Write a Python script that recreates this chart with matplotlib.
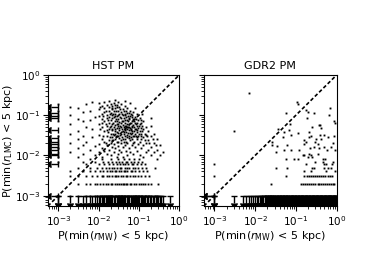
import numpy as np
import matplotlib.pyplot as plt

N = 1000.0  # orbits per satellite, values below are counts out of N

# HST PM: (count with min r_MW < 5 kpc, count with min r_LMC < 5 kpc)
hst_cloud = [
    (2, 160), (2, 100), (2, 60), (2, 35), (2, 20), (2, 12), (3, 150), (3, 80), (3, 40), (3, 25),
    (3, 15), (3, 9), (4, 120), (4, 70), (4, 30), (4, 18), (4, 11), (5, 190), (5, 50), (5, 22),
    (6, 130), (6, 75), (6, 14), (7, 210), (7, 45), (7, 28), (8, 90), (8, 17), (8, 10),
    (10, 200), (10, 140), (10, 95), (10, 60), (10, 33), (10, 19), (10, 12),
    (12, 170), (12, 110), (12, 80), (12, 50), (12, 26), (12, 15), (12, 9),
    (14, 210), (14, 150), (14, 120), (14, 70), (14, 40), (14, 22), (14, 13),
    (16, 180), (16, 100), (16, 85), (16, 55), (16, 30), (16, 18), (16, 11),
    (18, 220), (18, 160), (18, 130), (18, 90), (18, 65), (18, 45), (18, 24), (18, 14),
    (20, 190), (20, 115), (20, 75), (20, 35), (20, 20), (20, 10),
    (22, 170), (22, 140), (22, 100), (22, 60), (22, 42), (22, 28), (22, 16),
    (24, 200), (24, 125), (24, 88), (24, 52), (24, 32), (24, 19), (24, 12),
    (26, 150), (26, 110), (26, 70), (26, 45), (26, 25), (26, 15),
    (28, 180), (28, 95), (28, 62), (28, 38), (28, 22), (28, 9),
    (30, 210), (30, 130), (30, 80), (30, 55), (30, 30), (30, 17), (30, 11),
    (33, 160), (33, 105), (33, 68), (33, 42), (33, 27), (33, 14),
    (36, 190), (36, 120), (36, 85), (36, 50), (36, 35), (36, 20), (36, 12),
    (40, 145), (40, 100), (40, 72), (40, 58), (40, 40), (40, 25), (40, 16), (40, 9),
    (44, 170), (44, 110), (44, 65), (44, 45), (44, 30), (44, 18),
    (48, 130), (48, 90), (48, 55), (48, 38), (48, 22), (48, 13),
    (52, 150), (52, 75), (52, 50), (52, 33), (52, 20), (52, 10),
    (56, 115), (56, 85), (56, 60), (56, 42), (56, 27), (56, 15),
    (60, 130), (60, 95), (60, 48), (60, 36), (60, 24), (60, 12),
    (66, 100), (66, 70), (66, 52), (66, 40), (66, 18),
    (72, 120), (72, 80), (72, 58), (72, 30), (72, 20), (72, 11),
    (80, 90), (80, 65), (80, 45), (80, 34), (80, 16),
    (88, 105), (88, 55), (88, 38), (88, 25), (88, 13),
    (96, 75), (96, 48), (96, 30), (96, 19),
    (105, 85), (105, 60), (105, 40), (105, 22), (105, 10),
    (115, 65), (115, 35), (115, 26), (115, 15),
    (130, 70), (130, 45), (130, 28), (130, 18), (130, 9),
    (150, 50), (150, 33), (150, 20), (150, 12),
    (170, 40), (170, 24), (170, 14), (200, 55), (200, 30), (200, 16), (200, 10),
    (240, 35), (240, 20), (240, 12), (280, 25), (280, 14), (280, 8), (330, 18), (330, 10), (390, 12),
    (60, 200), (45, 220), (80, 150), (120, 110), (200, 85), (25, 240),
    (1, 190), (1, 130), (1, 70), (1, 30), (1, 15), (1, 9), (1, 7), (1, 1),
    # denser core of the cloud
    (11, 160), (11, 45), (13, 95), (13, 30), (15, 130), (15, 62), (15, 20), (17, 75), (17, 38),
    (19, 110), (19, 52), (19, 28), (21, 150), (21, 85), (21, 46), (21, 24), (23, 65), (23, 35),
    (23, 110), (25, 175), (25, 95), (25, 58), (25, 40), (27, 130), (27, 82), (27, 30),
    (29, 160), (29, 70), (29, 48), (31, 100), (31, 62), (31, 36), (31, 21), (34, 140), (34, 90),
    (34, 55), (34, 32), (38, 110), (38, 70), (38, 45), (38, 28), (42, 130), (42, 85), (42, 50),
    (42, 34), (42, 21), (46, 100), (46, 75), (46, 42), (46, 26), (50, 115), (50, 62), (50, 45),
    (50, 28), (54, 95), (54, 70), (54, 36), (58, 80), (58, 52), (58, 30), (63, 110), (63, 65),
    (63, 45), (63, 28), (69, 90), (69, 55), (69, 36), (69, 25), (76, 70), (76, 50), (76, 40),
    (76, 22), (84, 80), (84, 60), (84, 30), (92, 65), (92, 42), (92, 28), (100, 55), (100, 35),
    (110, 75), (110, 48), (110, 30), (120, 55), (120, 40), (140, 35), (140, 24), (160, 30),
    (180, 20), (220, 26), (260, 18), (20, 55), (35, 65), (45, 55), (55, 50), (65, 35),
    (12, 65), (16, 42), (26, 35), (32, 48), (37, 24), (43, 38), (62, 42), (75, 30), (85, 45),
]
# low-count rows of the HST sample: y count -> x counts
hst_rows = {
    1: [2, 3, 5, 6, 8, 9, 11, 12, 14, 15, 17, 19, 20, 22, 25, 27, 30, 32, 36, 38, 42, 45, 50,
        53, 58, 65, 70, 80, 85, 95, 100, 115, 122, 140, 150, 170, 180, 205, 250, 290],
    2: [3, 5, 6, 8, 9, 11, 13, 15, 17, 20, 22, 26, 28, 33, 35, 40, 43, 49, 52, 60, 65, 77, 85,
        100, 110, 130, 140, 170, 200, 300],
    3: [2, 3, 5, 7, 9, 12, 13, 16, 18, 21, 25, 27, 31, 37, 40, 48, 52, 60, 72, 80, 95, 110,
        140, 180],
    4: [2, 4, 6, 8, 11, 13, 16, 19, 21, 25, 27, 32, 35, 42, 45, 52, 62, 68, 82, 100, 130, 160],
    5: [3, 6, 9, 12, 15, 18, 22, 24, 29, 34, 37, 44, 52, 58, 70, 78, 95, 120, 150, 250],
    6: [5, 10, 14, 18, 23, 28, 34, 41, 45, 55, 66, 72, 88, 110, 140],
    7: [4, 8, 13, 17, 21, 27, 33, 39, 47, 52, 64, 77, 95, 120],
    8: [6, 12, 20, 30, 42, 56, 75, 100],
}
# zero counts in x (left arrows) and in y (down arrows)
hst_left_y = [163, 111, 97, 84, 43, 27, 22, 19, 16, 14, 11, 10, 6, 0]
hst_down_x = [0, 1, 2, 3, 4, 5, 6, 7, 8, 9, 10, 11, 12, 13, 14, 15, 16, 17, 18, 19, 20, 22, 24,
              26, 28, 30, 32, 34, 36, 38, 40, 43, 46, 50, 54, 58, 62, 66, 70, 75, 80, 85, 90, 96,
              102, 110, 118, 126, 135, 145, 155, 170, 185, 200, 220, 240, 260, 280, 300, 330,
              360, 400, 600]

# GDR2 PM
gdr2_cloud = [
    (7, 350), (3, 40), (1, 6), (1, 3), (105, 210), (113, 185), (56, 115), (194, 118), (189, 84),
    (275, 111), (700, 148), (667, 101), (900, 63), (840, 73), (176, 134), (72, 59), (68, 43),
    (51, 39), (110, 37), (49, 29), (36, 45), (256, 52), (400, 57), (410, 49), (235, 31),
    (400, 33), (500, 33), (860, 30), (410, 26), (376, 56), (213, 28), (160, 24), (176, 21),
    (292, 22), (343, 19), (272, 16), (120, 14), (75, 14), (33, 12), (56, 8), (90, 8), (150, 10),
    (194, 9), (235, 10), (455, 7), (485, 5), (600, 5), (176, 6), (282, 5), (810, 7), (300, 7),
    (160, 4), (35, 17), (26, 18), (75, 32), (213, 39), (310, 26), (630, 29), (580, 14),
    (530, 8), (710, 5), (810, 20), (26, 22), (62, 18), (160, 19), (51, 14), (220, 15),
    (375, 15), (500, 16), (740, 16), (160, 10), (213, 11), (256, 9), (345, 11), (110, 8),
    (460, 8), (500, 6), (540, 6), (760, 6), (32, 5), (62, 5), (256, 5), (550, 4), (235, 4),
    (900, 14), (900, 4),
]
gdr2_rows = {
    1: [15, 17, 19, 21, 23, 25, 28, 31, 34, 37, 40, 44, 48, 52, 57, 62, 68, 74, 80, 87, 94, 102,
        110, 120, 130, 140, 152, 165, 178, 192, 208, 225, 243, 262, 283, 305, 330, 355, 383,
        413, 445, 480, 518, 558, 600, 645, 695, 748, 805, 866, 930, 990],
    2: [24, 130, 150, 170, 190, 215, 240, 270, 300, 340, 380, 420, 470, 520, 580, 650, 720, 800,
        880],
    3: [56, 160, 190, 215, 240, 270, 300, 330, 380, 420, 470, 530, 600, 680, 750],
}
gdr2_left_y = [0, 1]
gdr2_down_x = [0, 1, 3, 5, 6, 7, 8, 9, 10, 11, 12, 13, 14, 15, 16, 17, 18, 19, 20, 21, 22, 23,
               24, 25, 26, 27, 28, 29, 30, 32, 34, 36, 38, 40, 42, 44, 46, 48, 50, 53, 56, 59,
               62, 65, 68, 72, 76, 80, 84, 88, 92, 97, 102, 107, 112, 118, 124, 130, 137, 144,
               151, 159, 167, 175, 184, 193, 203, 213, 224, 235, 247, 259, 272, 286, 300, 315,
               331, 348, 365, 383, 402, 422, 443, 465, 488, 512, 538, 565, 593, 622, 653, 685,
               719, 755, 792, 831, 872, 915, 960, 1000]

lo = 10**-3.26


def draw_panel(ax, cloud, rows, left_y, down_x, title):
    pts = list(cloud)
    for ny, xs in rows.items():
        pts += [(nx, ny) for nx in xs]
    px = np.array([p[0] for p in pts]) / N
    py = np.array([p[1] for p in pts]) / N
    ax.plot(px, py, 'ks', ms=1.35, mew=0)

    # zero counts -> upper limits at 1/N
    dx = np.maximum(np.array(down_x), 1) / N
    ax.errorbar(dx, np.full(len(dx), 1e-3), yerr=3.6e-4, uplims=True, fmt='none',
                color='k', ecolor='k', elinewidth=1, capsize=2.5)
    ly = np.maximum(np.array(left_y), 1) / N
    ax.errorbar(np.full(len(ly), 1e-3), ly, xerr=3.6e-4, xuplims=True, fmt='none',
                color='k', ecolor='k', elinewidth=1, capsize=2.5)

    ax.plot([lo, 1], [lo, 1], 'k', lw=1.2, dashes=(2.2, 1.4))
    ax.set_xscale('log')
    ax.set_yscale('log')
    ax.set_xlim(lo, 1)
    ax.set_ylim(lo, 1)
    ax.set_title(title, fontsize=8, pad=4)
    ax.set_xlabel(r'P(min($r_{\rm MW}$) < 5 kpc)', fontsize=8, labelpad=1)
    ax.tick_params(labelsize=7.5, pad=2)


fig = plt.figure(figsize=(3.74, 2.8), dpi=100)
ax1 = fig.add_axes([0.128, 0.264, 0.351, 0.468])
ax2 = fig.add_axes([0.545, 0.264, 0.355, 0.468])

draw_panel(ax1, hst_cloud, hst_rows, hst_left_y, hst_down_x, 'HST PM')
draw_panel(ax2, gdr2_cloud, gdr2_rows, gdr2_left_y, gdr2_down_x, 'GDR2 PM')
ax1.set_ylabel(r'P(min($r_{\rm LMC}$) < 5 kpc)', fontsize=8)
ax1.yaxis.set_label_coords(-0.25, 0.5)
ax2.tick_params(labelleft=False)

plt.savefig('out.png', dpi=100)
